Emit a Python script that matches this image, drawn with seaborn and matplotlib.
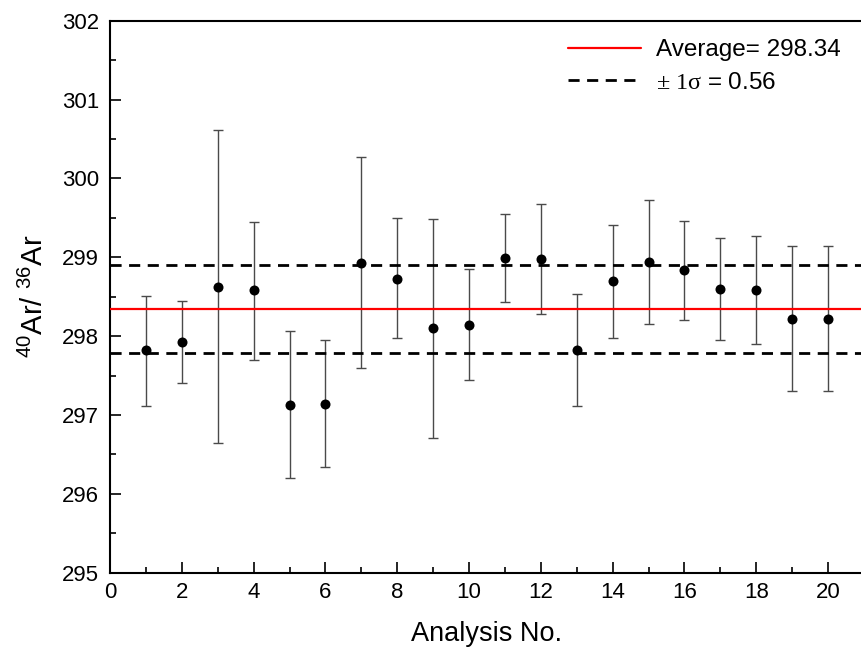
import matplotlib
matplotlib.use("Agg")
import matplotlib.pyplot as plt
import seaborn as sns
import numpy as np
import pandas as pd

analysis_no = list(range(1, 21))
ratio = [297.82, 297.93, 298.62, 298.58, 297.13, 297.14, 298.93, 298.73, 298.10, 298.14,
         298.99, 298.98, 297.83, 298.70, 298.94, 298.84, 298.60, 298.58, 298.22, 298.22]
upper = [298.51, 298.45, 300.61, 299.45, 298.07, 297.95, 300.27, 299.50, 299.49, 298.85,
         299.55, 299.68, 298.54, 299.41, 299.73, 299.46, 299.24, 299.27, 299.14, 299.14]
lower = [297.11, 297.41, 296.64, 297.70, 296.20, 296.34, 297.60, 297.97, 296.71, 297.44,
         298.43, 298.28, 297.11, 297.98, 298.15, 298.21, 297.95, 297.90, 297.31, 297.31]
average = 298.34
sigma = 0.56
x_ticks = [0, 2, 4, 6, 8, 10, 12, 14, 16, 18, 20]
y_ticks = [295, 296, 297, 298, 299, 300, 301, 302]

df = pd.DataFrame({"n": analysis_no, "r": ratio, "hi": upper, "lo": lower})

sns.set_theme(style="ticks")
plt.rcParams["font.family"] = ["Liberation Sans", "DejaVu Sans"]
plt.rcParams["mathtext.fontset"] = "custom"
plt.rcParams["mathtext.rm"] = "Liberation Serif"
plt.rcParams["mathtext.it"] = "Liberation Serif:italic"
plt.rcParams["mathtext.sf"] = "Liberation Sans"
plt.rcParams["text.color"] = "black"
plt.rcParams["axes.labelcolor"] = "black"
plt.rcParams["xtick.color"] = "black"
plt.rcParams["ytick.color"] = "black"

fig = plt.figure(figsize=(8.62, 6.57), dpi=100)
ax = fig.add_axes([110/862, 1-572.7/657, (864-110)/862, (572.7-20.7)/657])

ax.errorbar(df["n"], df["r"], yerr=[df["r"]-df["lo"], df["hi"]-df["r"]], fmt="none",
            ecolor="#4a4a4a", elinewidth=1.0, capsize=3.8, capthick=1.0, zorder=2)
ax.axhline(average, color="#ff0000", lw=1.6, zorder=3, label="Average= 298.34")
ax.axhline(average + sigma, color="black", lw=2.0, dashes=(4, 2.7), zorder=3,
           label=r"$\pm\ \mathrm{1\sigma}$ = 0.56")
ax.axhline(average - sigma, color="black", lw=2.0, dashes=(4, 2.7), zorder=3)
sns.scatterplot(data=df, x="n", y="r", color="black", s=52, edgecolor="black",
                linewidth=0, ax=ax, zorder=4)

ax.set_xlim(0, 21)
ax.set_ylim(295, 302)
ax.set_xticks(x_ticks)
ax.set_yticks(y_ticks)
ax.set_xticks(np.arange(1, 21, 2), minor=True)
ax.set_yticks(np.arange(295.5, 302, 1), minor=True)
ax.tick_params(which="major", direction="in", length=8, width=1.2, labelsize=16,
               top=False, right=False, colors="black")
ax.tick_params(axis="x", which="major", pad=7)
ax.tick_params(axis="y", which="major", pad=8)
ax.tick_params(which="minor", direction="in", length=4.5, width=1.2, top=False, right=False)
for s in ax.spines.values():
    s.set_linewidth(1.5)
    s.set_color("black")

ax.set_xlabel("Analysis No.", fontsize=19.5, labelpad=13)
ax.set_ylabel(r"$\mathsf{^{40}}$Ar/ $\mathsf{^{36}}$Ar", fontsize=21, labelpad=9)

leg = ax.legend(loc="upper left", bbox_to_anchor=(568/862, 1-39/657),
                bbox_transform=fig.transFigure, frameon=False, fontsize=17.5,
                handlelength=3.0, handletextpad=0.62, labelspacing=0.45,
                borderpad=0, borderaxespad=0)

fig.savefig("out.png", dpi=100)
